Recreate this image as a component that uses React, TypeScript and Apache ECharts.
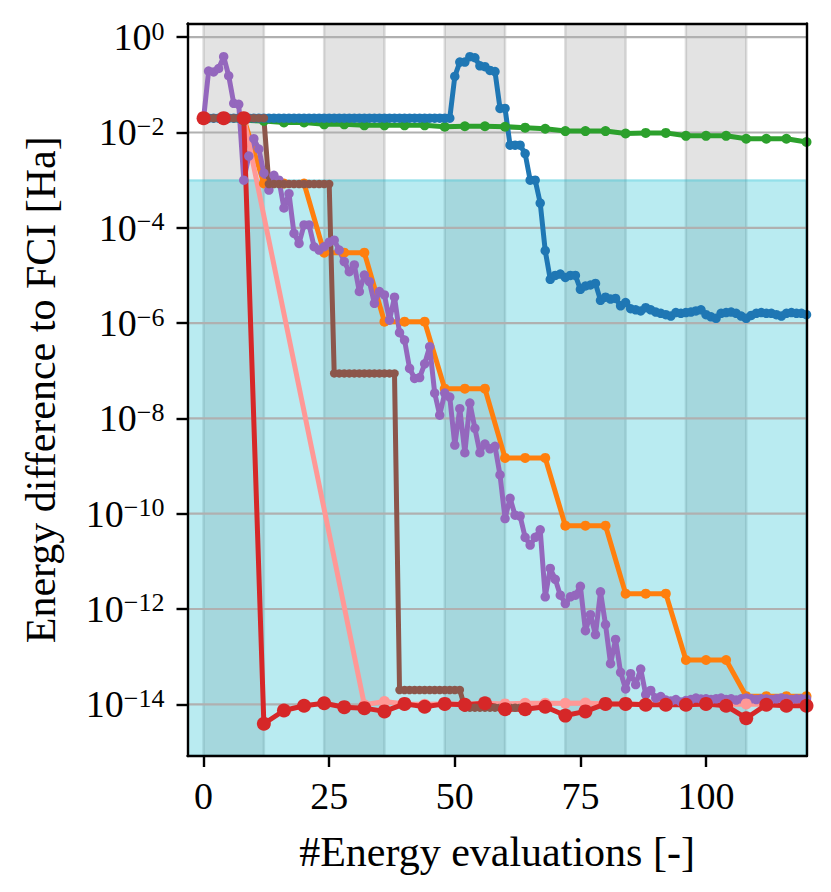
import React, { useEffect, useRef } from "react";
import * as echarts from "echarts";

const FONT = "'Liberation Serif', 'Times New Roman', serif";

// Axis ticks
const xTicks = [0, 25, 50, 75, 100];
const yTickExponents = [-14, -12, -10, -8, -6, -4, -2, 0];

// Shaded regions
const grayBands = [
  [0, 12],
  [24, 36],
  [48, 60],
  [72, 84],
  [96, 108],
];
const chemicalAccuracy = 1e-3;

// x positions for series sampled every 4 evaluations
const evalsEvery4 = [0, 4, 8, 12, 16, 20, 24, 28, 32, 36, 40, 44, 48, 52, 56, 60, 64, 68, 72, 76, 80, 84, 88, 92, 96, 100, 104, 108, 112, 116, 120];
const pinkEvals = [0, 4, 8, 32, 36, 40, 44, 48, 52, 56, 60, 64, 68, 72, 76, 80, 84, 88, 92, 96, 100, 104, 108, 112, 116, 120];

// Series sampled every evaluation (x = 0, 1, 2, ...)
const blueValues = [
  2.0e-2, 2.0e-2, 2.0e-2, 2.0e-2, 2.0e-2, 2.0e-2, 2.0e-2, 2.0e-2, 2.0e-2, 2.0e-2,
  2.0e-2, 2.0e-2, 2.0e-2, 2.0e-2, 2.0e-2, 2.0e-2, 2.0e-2, 2.0e-2, 2.0e-2, 2.0e-2,
  2.0e-2, 2.0e-2, 2.0e-2, 2.0e-2, 2.0e-2, 2.0e-2, 2.0e-2, 2.0e-2, 2.0e-2, 2.0e-2,
  2.0e-2, 2.0e-2, 2.0e-2, 2.0e-2, 2.0e-2, 2.0e-2, 2.0e-2, 2.0e-2, 2.0e-2, 2.0e-2,
  2.0e-2, 2.0e-2, 2.0e-2, 2.0e-2, 2.0e-2, 2.0e-2, 2.0e-2, 2.0e-2, 2.0e-2, 2.0e-2,
  1.5e-1, 3.0e-1, 3.0e-1, 3.9e-1, 3.7e-1, 2.5e-1, 2.4e-1, 2.0e-1, 1.9e-1, 3.2e-2,
  3.2e-2, 5.4e-3, 5.4e-3, 5.4e-3, 3.6e-3, 1.0e-3, 1.0e-3, 3.3e-4, 3.3e-5, 8.3e-6,
  1.0e-5, 1.07e-5, 9.1e-6, 1.0e-5, 1.0e-5, 5.1e-6, 6.0e-6, 6.3e-6, 6.8e-6, 3.0e-6,
  3.5e-6, 3.2e-6, 3.3e-6, 2.3e-6, 2.7e-6, 2.0e-6, 1.9e-6, 1.8e-6, 2.1e-6, 1.9e-6,
  1.7e-6, 1.6e-6, 1.5e-6, 1.4e-6, 1.66e-6, 1.6e-6, 1.66e-6, 1.7e-6, 1.8e-6, 1.9e-6,
  1.5e-6, 1.35e-6, 1.26e-6, 1.6e-6, 1.66e-6, 1.7e-6, 1.6e-6, 1.4e-6, 1.26e-6, 1.45e-6,
  1.6e-6, 1.66e-6, 1.6e-6, 1.6e-6, 1.5e-6, 1.4e-6, 1.6e-6, 1.66e-6, 1.6e-6, 1.6e-6,
  1.5e-6,
];

const purpleValues = [
  1.95e-2, 1.95e-1, 1.86e-1, 2.2e-1, 3.9e-1, 1.55e-1, 4.1e-2, 3.9e-2, 1.0e-3, 3.2e-3,
  7.4e-3, 4.5e-3, 1.4e-3, 6.2e-4, 1.26e-3, 1.0e-3, 2.6e-4, 5.2e-4, 7.6e-5, 4.7e-5,
  1.15e-4, 1.15e-4, 4.0e-5, 3.4e-5, 4.0e-5, 5.0e-5, 5.5e-5, 3.4e-5, 1.95e-5, 1.2e-5,
  1.66e-5, 4.6e-6, 1.02e-5, 7.4e-6, 2.6e-6, 4.6e-6, 3.9e-6, 1.15e-6, 3.5e-6, 6.3e-7,
  4.4e-7, 1.12e-7, 6.9e-8, 7.2e-8, 1.4e-7, 3.2e-7, 3.4e-8, 1.17e-8, 3.4e-8, 2.8e-8,
  2.75e-9, 1.6e-8, 1.9e-9, 2.1e-8, 6.2e-9, 1.9e-9, 2.9e-9, 2.3e-9, 2.6e-9, 6.5e-10,
  7.9e-11, 2.1e-10, 9.3e-11, 8.9e-11, 3.2e-11, 2.2e-11, 3.2e-11, 4.6e-11, 1.8e-12, 7.1e-12,
  4.2e-12, 1.95e-12, 1.3e-12, 1.8e-12, 1.95e-12, 3.0e-12, 3.5e-13, 7.6e-13, 2.9e-13, 2.3e-12,
  4.7e-13, 7.1e-14, 2.3e-13, 4.7e-14, 2.1e-14, 4.4e-14, 2.6e-14, 5.5e-14, 1.6e-14, 1.95e-14,
  1.35e-14, 1.45e-14, 1.23e-14, 1.17e-14, 1.26e-14, 1.12e-14, 1.2e-14, 1.26e-14, 1.35e-14, 1.29e-14,
  1.3e-14, 1.26e-14, 1.3e-14, 1.35e-14, 1.26e-14, 1.3e-14, 1.23e-14, 1.3e-14, 1.35e-14, 1.3e-14,
  1.26e-14, 1.3e-14, 1.3e-14, 1.26e-14, 1.3e-14, 1.35e-14, 1.3e-14, 1.26e-14, 1.3e-14, 1.3e-14,
  1.3e-14,
];

const brownValues = [
  2.0e-2, 2.0e-2, 2.0e-2, 2.0e-2, 2.0e-2, 2.0e-2, 2.0e-2, 2.0e-2, 2.0e-2, 2.0e-2, 2.0e-2, 2.0e-2, 2.0e-2,
  8.3e-4, 8.3e-4, 8.3e-4, 8.3e-4, 8.3e-4, 8.3e-4, 8.3e-4, 8.3e-4, 8.3e-4, 8.3e-4, 8.3e-4, 8.3e-4, 8.3e-4,
  8.8e-8, 8.8e-8, 8.8e-8, 8.8e-8, 8.8e-8, 8.8e-8, 8.8e-8, 8.8e-8, 8.8e-8, 8.8e-8, 8.8e-8, 8.8e-8, 8.8e-8,
  2.0e-14, 2.0e-14, 2.0e-14, 2.0e-14, 2.0e-14, 2.0e-14, 2.0e-14, 2.0e-14, 2.0e-14, 2.0e-14, 2.0e-14, 2.0e-14, 2.0e-14,
  8.5e-15, 8.5e-15, 8.5e-15, 8.5e-15, 8.5e-15, 8.5e-15, 8.5e-15, 8.5e-15, 8.5e-15, 8.5e-15, 8.5e-15, 8.5e-15, 8.5e-15,
];

// Series sampled every 4 evaluations (x = evalsEvery4)
const orangeValues = [
  2.0e-2, 2.0e-2, 2.0e-2, 8.5e-4, 8.5e-4, 8.5e-4, 3.0e-5, 3.0e-5, 3.0e-5, 1.07e-6,
  1.07e-6, 1.07e-6, 4.2e-8, 4.2e-8, 4.2e-8, 1.48e-9, 1.48e-9, 1.48e-9, 5.6e-11, 5.6e-11,
  5.6e-11, 2.1e-12, 2.1e-12, 2.1e-12, 8.5e-14, 8.5e-14, 8.5e-14, 1.48e-14, 1.48e-14, 1.48e-14,
  1.48e-14,
];

const greenValues = [
  2.0e-2, 1.9e-2, 1.8e-2, 1.74e-2, 1.62e-2, 1.62e-2, 1.48e-2, 1.48e-2, 1.41e-2, 1.41e-2,
  1.41e-2, 1.41e-2, 1.32e-2, 1.35e-2, 1.35e-2, 1.32e-2, 1.26e-2, 1.2e-2, 1.07e-2, 1.07e-2,
  1.07e-2, 9.5e-3, 9.8e-3, 9.8e-3, 8.5e-3, 8.5e-3, 8.5e-3, 7.4e-3, 7.4e-3, 7.4e-3,
  6.3e-3,
];

const redValues = [
  2.0e-2, 2.0e-2, 2.0e-2, 3.9e-15, 7.4e-15, 9.3e-15, 1.05e-14, 8.7e-15, 8.3e-15, 7.1e-15,
  1.02e-14, 8.9e-15, 1.02e-14, 9.8e-15, 1.05e-14, 7.9e-15, 7.9e-15, 8.9e-15, 5.8e-15, 7.1e-15,
  1.02e-14, 1.02e-14, 9.8e-15, 9.8e-15, 9.8e-15, 1.02e-14, 9.3e-15, 5.1e-15, 9.8e-15, 9.3e-15,
  9.3e-15,
];

// Light red series (x = pinkEvals)
const pinkValues = [
  2.0e-2, 2.0e-2, 2.0e-2, 9.8e-15, 1.15e-14, 1.02e-14, 1.0e-14, 1.02e-14, 1.0e-14, 1.05e-14,
  1.02e-14, 1.05e-14, 1.05e-14, 1.05e-14, 1.07e-14, 1.02e-14, 1.0e-14, 1.0e-14, 1.0e-14, 1.0e-14,
  1.0e-14, 1.0e-14, 1.02e-14, 1.0e-14, 1.0e-14, 1.0e-14,
];

const X_MIN = -3.2;
const X_MAX = 120;
const Y_MIN = -15.085;
const Y_MAX = 0.287;

const dense = (vals: number[]) => vals.map((v, i) => [i, Math.log10(v)]);
const withX = (xs: number[], vals: number[]) => vals.map((v, i) => [xs[i], Math.log10(v)]);

function lineSeries(name: string, color: string, data: number[][], symbolSize: number) {
  return {
    name,
    type: "line",
    data,
    symbol: "circle",
    symbolSize,
    showSymbol: true,
    showAllSymbol: true,
    clip: true,
    z: 2,
    lineStyle: { color, width: 5 },
    itemStyle: { color, borderWidth: 0 },
    emphasis: { disabled: true },
    silent: true,
  };
}

export default function App() {
  const ref = useRef<HTMLDivElement>(null);

  useEffect(() => {
    if (!ref.current) return;
    const chart = echarts.init(ref.current, undefined, { renderer: "svg" });

    const axisLineStyle = { color: "#000", width: 2.4 };

    const option: any = {
      animation: false,
      backgroundColor: "#ffffff",
      grid: {
        left: 187.5,
        top: 23.5,
        width: 619,
        height: 732.5,
        containLabel: false,
        outerBoundsMode: "none",
      },
      xAxis: [
        {
          type: "value",
          min: X_MIN,
          max: X_MAX,
          position: "bottom",
          z: 5,
          axisLine: { show: true, onZero: false, lineStyle: axisLineStyle },
          axisTick: {
            show: true,
            inside: false,
            length: 11,
            customValues: xTicks,
            lineStyle: axisLineStyle,
          },
          axisLabel: {
            show: true,
            customValues: xTicks,
            fontFamily: FONT,
            fontSize: 38,
            lineHeight: 38,
            color: "#000",
            margin: 21,
          },
          splitLine: { show: false },
          name: "#Energy evaluations [-]",
          nameLocation: "middle",
          nameGap: 75,
          nameTextStyle: { fontFamily: FONT, fontSize: 42, lineHeight: 42, color: "#000" },
        },
        {
          type: "value",
          min: X_MIN,
          max: X_MAX,
          position: "top",
          z: 5,
          axisLine: { show: true, onZero: false, lineStyle: axisLineStyle },
          axisTick: { show: false },
          axisLabel: { show: false },
          splitLine: { show: false },
        },
      ],
      yAxis: [
        {
          type: "value",
          min: Y_MIN,
          max: Y_MAX,
          position: "left",
          z: 5,
          axisLine: { show: true, onZero: false, lineStyle: axisLineStyle },
          axisTick: {
            show: true,
            inside: false,
            length: 11,
            customValues: yTickExponents,
            lineStyle: axisLineStyle,
          },
          axisLabel: {
            show: true,
            customValues: yTickExponents,
            margin: 23,
            formatter: (v: number) => {
              const e = Math.round(v);
              const sup = e === 0 ? "0" : (e < 0 ? "\u2212" : "") + Math.abs(e);
              return `{b|10}{s|${sup}}`;
            },
            rich: {
              b: { fontFamily: FONT, fontSize: 38, lineHeight: 38, color: "#000", verticalAlign: "middle" },
              s: { fontFamily: FONT, fontSize: 26, lineHeight: 26, color: "#000", verticalAlign: "top" },
            },
          },
          splitLine: { show: false },
          name: "Energy difference to FCI [Ha]",
          nameLocation: "middle",
          nameRotate: 90,
          nameGap: 126,
          nameTextStyle: { fontFamily: FONT, fontSize: 42, lineHeight: 42, color: "#000" },
        },
        {
          type: "value",
          min: Y_MIN,
          max: Y_MAX,
          position: "right",
          z: 5,
          axisLine: { show: true, onZero: false, lineStyle: axisLineStyle },
          axisTick: { show: false },
          axisLabel: { show: false },
          splitLine: { show: false },
        },
      ],
      series: [
        {
          type: "custom",
          name: "bands",
          silent: true,
          z: 0,
          clip: true,
          data: grayBands,
          renderItem: (params: any, api: any) => {
            const cs = params.coordSys;
            const x0 = api.coord([api.value(0), 0])[0];
            const x1 = api.coord([api.value(1), 0])[0];
            return {
              type: "rect",
              shape: { x: x0, y: cs.y, width: x1 - x0, height: cs.height },
              style: {
                fill: "rgba(128,128,128,0.22)",
                stroke: "rgba(128,128,128,0.25)",
                lineWidth: 2.5,
              },
            };
          },
        },
        {
          type: "custom",
          name: "chemical accuracy",
          silent: true,
          z: 0,
          clip: true,
          data: [[0, Math.log10(chemicalAccuracy)]],
          renderItem: (params: any, api: any) => {
            const cs = params.coordSys;
            const y = api.coord([0, api.value(1)])[1];
            return {
              type: "rect",
              shape: { x: cs.x, y, width: cs.width, height: cs.y + cs.height - y },
              style: {
                fill: "rgba(23,190,207,0.3)",
                stroke: "rgba(23,190,207,0.3)",
                lineWidth: 2.5,
              },
            };
          },
        },
        {
          type: "custom",
          name: "grid",
          silent: true,
          z: 1,
          clip: true,
          data: yTickExponents.map((e) => [0, e]),
          renderItem: (params: any, api: any) => {
            const cs = params.coordSys;
            const y = api.coord([0, api.value(1)])[1];
            return {
              type: "line",
              shape: { x1: cs.x, y1: y, x2: cs.x + cs.width, y2: y },
              style: { stroke: "#b0b0b0", lineWidth: 2.2 },
            };
          },
        },
        lineSeries("green", "#2ca02c", withX(evalsEvery4, greenValues), 10),
        lineSeries("orange", "#ff7f0e", withX(evalsEvery4, orangeValues), 10),
        lineSeries("blue", "#1f77b4", dense(blueValues), 9.5),
        lineSeries("purple", "#9467bd", dense(purpleValues), 9.5),
        lineSeries("brown", "#8c564b", dense(brownValues), 8.5),
        lineSeries("pink", "#ff9896", withX(pinkEvals, pinkValues), 11),
        lineSeries("red", "#d62728", withX(evalsEvery4, redValues), 14),
      ],
    };

    chart.setOption(option);
    return () => {
      chart.dispose();
    };
  }, []);

  return (
    <div
      ref={ref}
      style={{ position: "absolute", left: 0, top: 0, width: 831, height: 892, background: "#fff" }}
    />
  );
}
